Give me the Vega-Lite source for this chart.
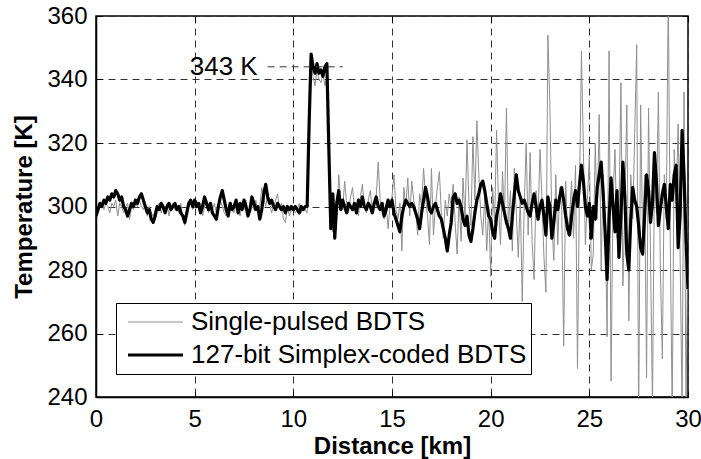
{
  "$schema": "https://vega.github.io/schema/vega-lite/v6.json",
  "width": 592,
  "height": 381,
  "autosize": {"type": "none"},
  "padding": {"left": 96, "top": 16, "right": 13, "bottom": 62},
  "background": "white",
  "config": {
    "font": "Liberation Sans",
    "view": {"stroke": "black", "strokeWidth": 1.5},
    "axis": {
      "domainColor": "black", "domainWidth": 1.5, "tickColor": "black", "labelColor": "black", "titleColor": "black",
      "labelFont": "Liberation Sans", "titleFont": "Liberation Sans", "labelFontSize": 24, "titleFontSize": 24,
      "titleFontWeight": "bold", "gridColor": "#333", "gridDash": [7, 5], "gridOpacity": 1, "gridWidth": 1,
      "tickSize": -6, "tickWidth": 1, "labelFlush": false, "labelOverlap": false
    }
  },
  "resolve": {"axis": {"x": "independent", "y": "independent"}},
  "datasets": {
    "profiles": [
{"s":"C","d":0,"t":297},{"s":"C","d":0.1,"t":299},{"s":"C","d":0.2,"t":301},{"s":"C","d":0.3,"t":300},{"s":"C","d":0.4,"t":302},{"s":"C","d":0.5,"t":301},{"s":"C","d":0.6,"t":303},{"s":"C","d":0.7,"t":302},{"s":"C","d":0.8,"t":304},{"s":"C","d":0.9,"t":303},
{"s":"C","d":1,"t":305},{"s":"C","d":1.1,"t":304},{"s":"C","d":1.2,"t":302},{"s":"C","d":1.3,"t":303},{"s":"C","d":1.4,"t":300},{"s":"C","d":1.5,"t":299},{"s":"C","d":1.6,"t":297},{"s":"C","d":1.7,"t":299},{"s":"C","d":1.8,"t":301},{"s":"C","d":1.9,"t":300},
{"s":"C","d":2,"t":302},{"s":"C","d":2.1,"t":301},{"s":"C","d":2.2,"t":303},{"s":"C","d":2.3,"t":304},{"s":"C","d":2.4,"t":302},{"s":"C","d":2.5,"t":300},{"s":"C","d":2.6,"t":298},{"s":"C","d":2.7,"t":299},{"s":"C","d":2.8,"t":296},{"s":"C","d":2.9,"t":295},
{"s":"C","d":3,"t":297},{"s":"C","d":3.1,"t":300},{"s":"C","d":3.2,"t":299},{"s":"C","d":3.3,"t":301},{"s":"C","d":3.4,"t":300},{"s":"C","d":3.5,"t":298},{"s":"C","d":3.6,"t":300},{"s":"C","d":3.7,"t":301},{"s":"C","d":3.8,"t":299},{"s":"C","d":3.9,"t":300},
{"s":"C","d":4,"t":301},{"s":"C","d":4.1,"t":299},{"s":"C","d":4.2,"t":300},{"s":"C","d":4.3,"t":298},{"s":"C","d":4.4,"t":297},{"s":"C","d":4.5,"t":295},{"s":"C","d":4.6,"t":298},{"s":"C","d":4.7,"t":301},{"s":"C","d":4.8,"t":302},{"s":"C","d":4.9,"t":300},
{"s":"C","d":5,"t":302},{"s":"C","d":5.1,"t":300},{"s":"C","d":5.2,"t":301},{"s":"C","d":5.3,"t":298},{"s":"C","d":5.4,"t":300},{"s":"C","d":5.5,"t":303},{"s":"C","d":5.6,"t":301},{"s":"C","d":5.7,"t":299},{"s":"C","d":5.8,"t":301},{"s":"C","d":5.9,"t":298},
{"s":"C","d":6,"t":297},{"s":"C","d":6.1,"t":296},{"s":"C","d":6.2,"t":300},{"s":"C","d":6.3,"t":303},{"s":"C","d":6.4,"t":305},{"s":"C","d":6.5,"t":302},{"s":"C","d":6.6,"t":299},{"s":"C","d":6.7,"t":297},{"s":"C","d":6.8,"t":301},{"s":"C","d":6.9,"t":299},
{"s":"C","d":7,"t":300},{"s":"C","d":7.1,"t":302},{"s":"C","d":7.2,"t":298},{"s":"C","d":7.3,"t":301},{"s":"C","d":7.4,"t":299},{"s":"C","d":7.5,"t":302},{"s":"C","d":7.6,"t":300},{"s":"C","d":7.7,"t":297},{"s":"C","d":7.8,"t":299},{"s":"C","d":7.9,"t":303},
{"s":"C","d":8,"t":301},{"s":"C","d":8.1,"t":299},{"s":"C","d":8.2,"t":300},{"s":"C","d":8.3,"t":296},{"s":"C","d":8.4,"t":299},{"s":"C","d":8.5,"t":304},{"s":"C","d":8.6,"t":307},{"s":"C","d":8.7,"t":303},{"s":"C","d":8.8,"t":301},{"s":"C","d":8.9,"t":302},
{"s":"C","d":9,"t":300},{"s":"C","d":9.1,"t":299},{"s":"C","d":9.2,"t":301},{"s":"C","d":9.3,"t":300},{"s":"C","d":9.4,"t":299},{"s":"C","d":9.5,"t":300},{"s":"C","d":9.6,"t":298},{"s":"C","d":9.7,"t":300},{"s":"C","d":9.8,"t":299},{"s":"C","d":9.9,"t":300},
{"s":"C","d":10,"t":299},{"s":"C","d":10.1,"t":300},{"s":"C","d":10.2,"t":299},{"s":"C","d":10.3,"t":298},{"s":"C","d":10.4,"t":300},{"s":"C","d":10.5,"t":299},{"s":"C","d":10.6,"t":300},{"s":"C","d":10.7,"t":300},{"s":"C","d":10.8,"t":326},{"s":"C","d":10.9,"t":348},
{"s":"C","d":11,"t":344},{"s":"C","d":11.1,"t":342},{"s":"C","d":11.2,"t":345},{"s":"C","d":11.3,"t":342},{"s":"C","d":11.4,"t":343},{"s":"C","d":11.5,"t":341},{"s":"C","d":11.6,"t":344},{"s":"C","d":11.7,"t":345},{"s":"C","d":11.8,"t":318},{"s":"C","d":11.9,"t":293},
{"s":"C","d":12,"t":304},{"s":"C","d":12.1,"t":290},{"s":"C","d":12.2,"t":301},{"s":"C","d":12.3,"t":305},{"s":"C","d":12.4,"t":299},{"s":"C","d":12.5,"t":302},{"s":"C","d":12.6,"t":300},{"s":"C","d":12.7,"t":298},{"s":"C","d":12.8,"t":301},{"s":"C","d":12.9,"t":300},
{"s":"C","d":13,"t":299},{"s":"C","d":13.1,"t":301},{"s":"C","d":13.2,"t":298},{"s":"C","d":13.3,"t":302},{"s":"C","d":13.4,"t":300},{"s":"C","d":13.5,"t":303},{"s":"C","d":13.6,"t":300},{"s":"C","d":13.7,"t":299},{"s":"C","d":13.8,"t":301},{"s":"C","d":13.9,"t":300},
{"s":"C","d":14,"t":298},{"s":"C","d":14.1,"t":301},{"s":"C","d":14.2,"t":303},{"s":"C","d":14.3,"t":300},{"s":"C","d":14.4,"t":299},{"s":"C","d":14.5,"t":301},{"s":"C","d":14.6,"t":297},{"s":"C","d":14.7,"t":299},{"s":"C","d":14.8,"t":302},{"s":"C","d":14.9,"t":300},
{"s":"C","d":15,"t":302},{"s":"C","d":15.1,"t":298},{"s":"C","d":15.2,"t":296},{"s":"C","d":15.3,"t":294},{"s":"C","d":15.4,"t":292},{"s":"C","d":15.5,"t":297},{"s":"C","d":15.6,"t":300},{"s":"C","d":15.7,"t":302},{"s":"C","d":15.8,"t":301},{"s":"C","d":15.9,"t":300},
{"s":"C","d":16,"t":301},{"s":"C","d":16.1,"t":300},{"s":"C","d":16.2,"t":298},{"s":"C","d":16.3,"t":296},{"s":"C","d":16.4,"t":293},{"s":"C","d":16.5,"t":298},{"s":"C","d":16.6,"t":302},{"s":"C","d":16.7,"t":306},{"s":"C","d":16.8,"t":303},{"s":"C","d":16.9,"t":299},
{"s":"C","d":17,"t":298},{"s":"C","d":17.1,"t":300},{"s":"C","d":17.2,"t":301},{"s":"C","d":17.3,"t":299},{"s":"C","d":17.4,"t":297},{"s":"C","d":17.5,"t":296},{"s":"C","d":17.6,"t":293},{"s":"C","d":17.7,"t":290},{"s":"C","d":17.8,"t":286},{"s":"C","d":17.9,"t":291},
{"s":"C","d":18,"t":295},{"s":"C","d":18.1,"t":303},{"s":"C","d":18.2,"t":304},{"s":"C","d":18.3,"t":301},{"s":"C","d":18.4,"t":302},{"s":"C","d":18.5,"t":300},{"s":"C","d":18.6,"t":296},{"s":"C","d":18.7,"t":294},{"s":"C","d":18.8,"t":297},{"s":"C","d":18.9,"t":291},
{"s":"C","d":19,"t":289},{"s":"C","d":19.1,"t":293},{"s":"C","d":19.2,"t":298},{"s":"C","d":19.3,"t":302},{"s":"C","d":19.4,"t":304},{"s":"C","d":19.5,"t":307},{"s":"C","d":19.6,"t":308},{"s":"C","d":19.7,"t":305},{"s":"C","d":19.8,"t":301},{"s":"C","d":19.9,"t":297},
{"s":"C","d":20,"t":296},{"s":"C","d":20.1,"t":292},{"s":"C","d":20.2,"t":290},{"s":"C","d":20.3,"t":297},{"s":"C","d":20.4,"t":300},{"s":"C","d":20.5,"t":304},{"s":"C","d":20.6,"t":301},{"s":"C","d":20.7,"t":298},{"s":"C","d":20.8,"t":295},{"s":"C","d":20.9,"t":293},
{"s":"C","d":21,"t":290},{"s":"C","d":21.1,"t":297},{"s":"C","d":21.2,"t":304},{"s":"C","d":21.3,"t":310},{"s":"C","d":21.4,"t":305},{"s":"C","d":21.5,"t":303},{"s":"C","d":21.6,"t":301},{"s":"C","d":21.7,"t":302},{"s":"C","d":21.8,"t":300},{"s":"C","d":21.9,"t":298},
{"s":"C","d":22,"t":297},{"s":"C","d":22.1,"t":301},{"s":"C","d":22.2,"t":304},{"s":"C","d":22.3,"t":300},{"s":"C","d":22.4,"t":296},{"s":"C","d":22.5,"t":300},{"s":"C","d":22.6,"t":302},{"s":"C","d":22.7,"t":297},{"s":"C","d":22.8,"t":291},{"s":"C","d":22.9,"t":303},
{"s":"C","d":23,"t":300},{"s":"C","d":23.1,"t":290},{"s":"C","d":23.2,"t":295},{"s":"C","d":23.3,"t":302},{"s":"C","d":23.4,"t":299},{"s":"C","d":23.5,"t":303},{"s":"C","d":23.6,"t":306},{"s":"C","d":23.7,"t":302},{"s":"C","d":23.8,"t":297},{"s":"C","d":23.9,"t":293},
{"s":"C","d":24,"t":291},{"s":"C","d":24.1,"t":297},{"s":"C","d":24.2,"t":302},{"s":"C","d":24.3,"t":305},{"s":"C","d":24.4,"t":300},{"s":"C","d":24.5,"t":307},{"s":"C","d":24.6,"t":313},{"s":"C","d":24.7,"t":308},{"s":"C","d":24.8,"t":300},{"s":"C","d":24.9,"t":297},
{"s":"C","d":25,"t":301},{"s":"C","d":25.1,"t":290},{"s":"C","d":25.2,"t":300},{"s":"C","d":25.3,"t":296},{"s":"C","d":25.4,"t":306},{"s":"C","d":25.5,"t":310},{"s":"C","d":25.6,"t":314},{"s":"C","d":25.7,"t":304},{"s":"C","d":25.8,"t":292},{"s":"C","d":25.9,"t":277},
{"s":"C","d":26,"t":296},{"s":"C","d":26.1,"t":309},{"s":"C","d":26.2,"t":300},{"s":"C","d":26.3,"t":292},{"s":"C","d":26.4,"t":305},{"s":"C","d":26.5,"t":284},{"s":"C","d":26.6,"t":297},{"s":"C","d":26.7,"t":314},{"s":"C","d":26.8,"t":303},{"s":"C","d":26.9,"t":285},
{"s":"C","d":27,"t":280},{"s":"C","d":27.1,"t":296},{"s":"C","d":27.2,"t":306},{"s":"C","d":27.3,"t":302},{"s":"C","d":27.4,"t":300},{"s":"C","d":27.5,"t":294},{"s":"C","d":27.6,"t":287},{"s":"C","d":27.7,"t":285},{"s":"C","d":27.8,"t":297},{"s":"C","d":27.9,"t":310},
{"s":"C","d":28,"t":305},{"s":"C","d":28.1,"t":295},{"s":"C","d":28.2,"t":301},{"s":"C","d":28.3,"t":317},{"s":"C","d":28.4,"t":308},{"s":"C","d":28.5,"t":294},{"s":"C","d":28.6,"t":299},{"s":"C","d":28.7,"t":304},{"s":"C","d":28.8,"t":307},{"s":"C","d":28.9,"t":300},
{"s":"C","d":29,"t":293},{"s":"C","d":29.1,"t":307},{"s":"C","d":29.2,"t":302},{"s":"C","d":29.3,"t":310},{"s":"C","d":29.4,"t":313},{"s":"C","d":29.5,"t":287},{"s":"C","d":29.6,"t":297},{"s":"C","d":29.7,"t":324},{"s":"C","d":29.8,"t":310},{"s":"C","d":29.9,"t":290},
{"s":"C","d":30,"t":274},
{"s":"S","d":0,"t":299},{"s":"S","d":0.1,"t":298},{"s":"S","d":0.2,"t":301},{"s":"S","d":0.3,"t":300},{"s":"S","d":0.4,"t":299},{"s":"S","d":0.5,"t":301},{"s":"S","d":0.6,"t":300},{"s":"S","d":0.7,"t":298},{"s":"S","d":0.8,"t":301},{"s":"S","d":0.9,"t":300},
{"s":"S","d":1,"t":302},{"s":"S","d":1.1,"t":297},{"s":"S","d":1.2,"t":301},{"s":"S","d":1.3,"t":300},{"s":"S","d":1.4,"t":298},{"s":"S","d":1.5,"t":300},{"s":"S","d":1.6,"t":301},{"s":"S","d":1.7,"t":296},{"s":"S","d":1.8,"t":300},{"s":"S","d":1.9,"t":299},
{"s":"S","d":2,"t":301},{"s":"S","d":2.1,"t":300},{"s":"S","d":2.2,"t":302},{"s":"S","d":2.3,"t":300},{"s":"S","d":2.4,"t":299},{"s":"S","d":2.5,"t":301},{"s":"S","d":2.6,"t":297},{"s":"S","d":2.7,"t":300},{"s":"S","d":2.8,"t":298},{"s":"S","d":2.9,"t":297},
{"s":"S","d":3,"t":299},{"s":"S","d":3.1,"t":300},{"s":"S","d":3.2,"t":301},{"s":"S","d":3.3,"t":298},{"s":"S","d":3.4,"t":300},{"s":"S","d":3.5,"t":299},{"s":"S","d":3.6,"t":301},{"s":"S","d":3.7,"t":297},{"s":"S","d":3.8,"t":300},{"s":"S","d":3.9,"t":301},
{"s":"S","d":4,"t":299},{"s":"S","d":4.1,"t":300},{"s":"S","d":4.2,"t":298},{"s":"S","d":4.3,"t":301},{"s":"S","d":4.4,"t":296},{"s":"S","d":4.5,"t":294},{"s":"S","d":4.6,"t":299},{"s":"S","d":4.7,"t":300},{"s":"S","d":4.8,"t":301},{"s":"S","d":4.9,"t":299},
{"s":"S","d":5,"t":300},{"s":"S","d":5.1,"t":302},{"s":"S","d":5.2,"t":299},{"s":"S","d":5.3,"t":301},{"s":"S","d":5.4,"t":297},{"s":"S","d":5.5,"t":300},{"s":"S","d":5.6,"t":302},{"s":"S","d":5.7,"t":298},{"s":"S","d":5.8,"t":300},{"s":"S","d":5.9,"t":299},
{"s":"S","d":6,"t":301},{"s":"S","d":6.1,"t":298},{"s":"S","d":6.2,"t":299},{"s":"S","d":6.3,"t":302},{"s":"S","d":6.4,"t":300},{"s":"S","d":6.5,"t":298},{"s":"S","d":6.6,"t":297},{"s":"S","d":6.7,"t":300},{"s":"S","d":6.8,"t":301},{"s":"S","d":6.9,"t":299},
{"s":"S","d":7,"t":298},{"s":"S","d":7.1,"t":301},{"s":"S","d":7.2,"t":300},{"s":"S","d":7.3,"t":297},{"s":"S","d":7.4,"t":301},{"s":"S","d":7.5,"t":299},{"s":"S","d":7.6,"t":302},{"s":"S","d":7.7,"t":298},{"s":"S","d":7.8,"t":300},{"s":"S","d":7.9,"t":301},
{"s":"S","d":8,"t":299},{"s":"S","d":8.1,"t":302},{"s":"S","d":8.2,"t":298},{"s":"S","d":8.3,"t":300},{"s":"S","d":8.4,"t":306},{"s":"S","d":8.5,"t":303},{"s":"S","d":8.6,"t":300},{"s":"S","d":8.7,"t":304},{"s":"S","d":8.8,"t":301},{"s":"S","d":8.9,"t":298},
{"s":"S","d":9,"t":300},{"s":"S","d":9.1,"t":302},{"s":"S","d":9.2,"t":304},{"s":"S","d":9.3,"t":299},{"s":"S","d":9.4,"t":301},{"s":"S","d":9.5,"t":296},{"s":"S","d":9.6,"t":295},{"s":"S","d":9.7,"t":300},{"s":"S","d":9.8,"t":297},{"s":"S","d":9.9,"t":299},
{"s":"S","d":10,"t":300},{"s":"S","d":10.1,"t":298},{"s":"S","d":10.2,"t":299},{"s":"S","d":10.3,"t":301},{"s":"S","d":10.4,"t":298},{"s":"S","d":10.5,"t":300},{"s":"S","d":10.6,"t":299},{"s":"S","d":10.7,"t":298},{"s":"S","d":10.8,"t":322},{"s":"S","d":10.9,"t":345},
{"s":"S","d":11,"t":341},{"s":"S","d":11.1,"t":338},{"s":"S","d":11.2,"t":343},{"s":"S","d":11.3,"t":340},{"s":"S","d":11.4,"t":339},{"s":"S","d":11.5,"t":342},{"s":"S","d":11.6,"t":338},{"s":"S","d":11.7,"t":341},{"s":"S","d":11.8,"t":315},{"s":"S","d":11.9,"t":298},
{"s":"S","d":12,"t":292},{"s":"S","d":12.1,"t":301},{"s":"S","d":12.2,"t":297},{"s":"S","d":12.3,"t":310},{"s":"S","d":12.4,"t":302},{"s":"S","d":12.5,"t":299},{"s":"S","d":12.6,"t":308},{"s":"S","d":12.7,"t":301},{"s":"S","d":12.8,"t":298},{"s":"S","d":12.9,"t":303},
{"s":"S","d":13,"t":306},{"s":"S","d":13.1,"t":299},{"s":"S","d":13.2,"t":301},{"s":"S","d":13.3,"t":297},{"s":"S","d":13.4,"t":303},{"s":"S","d":13.5,"t":307},{"s":"S","d":13.6,"t":300},{"s":"S","d":13.7,"t":298},{"s":"S","d":13.8,"t":302},{"s":"S","d":13.9,"t":305},
{"s":"S","d":14,"t":299},{"s":"S","d":14.1,"t":301},{"s":"S","d":14.2,"t":303},{"s":"S","d":14.3,"t":314},{"s":"S","d":14.4,"t":302},{"s":"S","d":14.5,"t":298},{"s":"S","d":14.6,"t":296},{"s":"S","d":14.7,"t":301},{"s":"S","d":14.8,"t":293},{"s":"S","d":14.9,"t":300},
{"s":"S","d":15,"t":303},{"s":"S","d":15.1,"t":310},{"s":"S","d":15.2,"t":299},{"s":"S","d":15.3,"t":296},{"s":"S","d":15.4,"t":301},{"s":"S","d":15.5,"t":286},{"s":"S","d":15.6,"t":306},{"s":"S","d":15.7,"t":300},{"s":"S","d":15.8,"t":309},{"s":"S","d":15.9,"t":297},
{"s":"S","d":16,"t":308},{"s":"S","d":16.1,"t":302},{"s":"S","d":16.2,"t":299},{"s":"S","d":16.3,"t":291},{"s":"S","d":16.4,"t":304},{"s":"S","d":16.5,"t":300},{"s":"S","d":16.6,"t":312},{"s":"S","d":16.7,"t":303},{"s":"S","d":16.8,"t":297},{"s":"S","d":16.9,"t":288},
{"s":"S","d":17,"t":312},{"s":"S","d":17.1,"t":291},{"s":"S","d":17.2,"t":300},{"s":"S","d":17.3,"t":306},{"s":"S","d":17.4,"t":311},{"s":"S","d":17.5,"t":298},{"s":"S","d":17.6,"t":290},{"s":"S","d":17.7,"t":302},{"s":"S","d":17.8,"t":297},{"s":"S","d":17.9,"t":304},
{"s":"S","d":18,"t":300},{"s":"S","d":18.1,"t":307},{"s":"S","d":18.2,"t":295},{"s":"S","d":18.3,"t":285},{"s":"S","d":18.4,"t":303},{"s":"S","d":18.5,"t":289},{"s":"S","d":18.6,"t":309},{"s":"S","d":18.7,"t":296},{"s":"S","d":18.8,"t":321},{"s":"S","d":18.9,"t":301},
{"s":"S","d":19,"t":294},{"s":"S","d":19.1,"t":322},{"s":"S","d":19.2,"t":302},{"s":"S","d":19.3,"t":327},{"s":"S","d":19.4,"t":310},{"s":"S","d":19.5,"t":297},{"s":"S","d":19.6,"t":291},{"s":"S","d":19.7,"t":303},{"s":"S","d":19.8,"t":286},{"s":"S","d":19.9,"t":300},
{"s":"S","d":20,"t":278},{"s":"S","d":20.1,"t":306},{"s":"S","d":20.2,"t":295},{"s":"S","d":20.3,"t":324},{"s":"S","d":20.4,"t":300},{"s":"S","d":20.5,"t":288},{"s":"S","d":20.6,"t":311},{"s":"S","d":20.7,"t":296},{"s":"S","d":20.8,"t":331},{"s":"S","d":20.9,"t":292},
{"s":"S","d":21,"t":305},{"s":"S","d":21.1,"t":286},{"s":"S","d":21.2,"t":312},{"s":"S","d":21.3,"t":298},{"s":"S","d":21.4,"t":284},{"s":"S","d":21.5,"t":303},{"s":"S","d":21.6,"t":270},{"s":"S","d":21.7,"t":300},{"s":"S","d":21.8,"t":320},{"s":"S","d":21.9,"t":291},
{"s":"S","d":22,"t":317},{"s":"S","d":22.1,"t":289},{"s":"S","d":22.2,"t":277},{"s":"S","d":22.3,"t":305},{"s":"S","d":22.4,"t":296},{"s":"S","d":22.5,"t":318},{"s":"S","d":22.6,"t":302},{"s":"S","d":22.7,"t":284},{"s":"S","d":22.8,"t":273},{"s":"S","d":22.9,"t":354},
{"s":"S","d":23,"t":332},{"s":"S","d":23.1,"t":295},{"s":"S","d":23.2,"t":283},{"s":"S","d":23.3,"t":310},{"s":"S","d":23.4,"t":288},{"s":"S","d":23.5,"t":306},{"s":"S","d":23.6,"t":299},{"s":"S","d":23.7,"t":256},{"s":"S","d":23.8,"t":308},{"s":"S","d":23.9,"t":291},
{"s":"S","d":24,"t":297},{"s":"S","d":24.1,"t":308},{"s":"S","d":24.2,"t":290},{"s":"S","d":24.3,"t":313},{"s":"S","d":24.4,"t":249},{"s":"S","d":24.5,"t":305},{"s":"S","d":24.6,"t":349},{"s":"S","d":24.7,"t":317},{"s":"S","d":24.8,"t":288},{"s":"S","d":24.9,"t":302},
{"s":"S","d":25,"t":316},{"s":"S","d":25.1,"t":280},{"s":"S","d":25.2,"t":285},{"s":"S","d":25.3,"t":320},{"s":"S","d":25.4,"t":296},{"s":"S","d":25.5,"t":329},{"s":"S","d":25.6,"t":280},{"s":"S","d":25.7,"t":310},{"s":"S","d":25.8,"t":298},{"s":"S","d":25.9,"t":259},
{"s":"S","d":26,"t":349},{"s":"S","d":26.1,"t":245},{"s":"S","d":26.2,"t":302},{"s":"S","d":26.3,"t":318},{"s":"S","d":26.4,"t":290},{"s":"S","d":26.5,"t":296},{"s":"S","d":26.6,"t":339},{"s":"S","d":26.7,"t":275},{"s":"S","d":26.8,"t":300},{"s":"S","d":26.9,"t":332},
{"s":"S","d":27,"t":264},{"s":"S","d":27.1,"t":310},{"s":"S","d":27.2,"t":296},{"s":"S","d":27.3,"t":323},{"s":"S","d":27.4,"t":351},{"s":"S","d":27.5,"t":232},{"s":"S","d":27.6,"t":332},{"s":"S","d":27.7,"t":290},{"s":"S","d":27.8,"t":310},{"s":"S","d":27.9,"t":246},
{"s":"S","d":28,"t":331},{"s":"S","d":28.1,"t":285},{"s":"S","d":28.2,"t":236},{"s":"S","d":28.3,"t":312},{"s":"S","d":28.4,"t":298},{"s":"S","d":28.5,"t":336},{"s":"S","d":28.6,"t":280},{"s":"S","d":28.7,"t":252},{"s":"S","d":28.8,"t":310},{"s":"S","d":28.9,"t":296},
{"s":"S","d":29,"t":368},{"s":"S","d":29.1,"t":290},{"s":"S","d":29.2,"t":234},{"s":"S","d":29.3,"t":318},{"s":"S","d":29.4,"t":301},{"s":"S","d":29.5,"t":326},{"s":"S","d":29.6,"t":285},{"s":"S","d":29.7,"t":236},{"s":"S","d":29.8,"t":336},{"s":"S","d":29.9,"t":236},
{"s":"S","d":30,"t":300}
    ],
    "note": [{"d": 8.7, "d2": 12.5, "t": 344, "label": "343 K"}]
  },
  "layer": [
    {
      "data": {"name": "profiles"},
      "transform": [{"filter": "datum.s === 'S'"}],
      "mark": {"type": "line", "clip": true, "strokeJoin": "miter"},
      "encoding": {
        "x": {"field": "d", "type": "quantitative", "scale": {"domain": [0, 30], "nice": false},
              "axis": {"title": "Distance [km]", "values": [0, 5, 10, 15, 20, 25, 30], "grid": true, "labelPadding": 16, "titlePadding": 3}},
        "y": {"field": "t", "type": "quantitative", "scale": {"domain": [240, 360], "nice": false, "zero": false},
              "axis": {"title": "Temperature [K]", "values": [240, 260, 280, 300, 320, 340, 360], "grid": true, "labelPadding": 15, "titlePadding": 10}},
        "color": {"field": "s", "type": "nominal", "scale": {"domain": ["S", "C"], "range": ["#8f8f8f", "#000000"]},
                  "legend": {"orient": "none", "legendX": 20, "legendY": 287, "title": null, "strokeColor": "black", "fillColor": "white",
                             "padding": 4, "symbolOffset": 6, "clipHeight": 30, "labelFontSize": 26, "labelFont": "Liberation Sans", "labelColor": "black", "labelLimit": 600, "symbolType": "stroke", "symbolSize": 3025, "labelOffset": 6, "rowPadding": 3,
                             "labelExpr": "datum.value === 'S' ? 'Single-pulsed BDTS' : '127-bit Simplex-coded BDTS'"}},
        "strokeWidth": {"field": "s", "type": "nominal", "scale": {"domain": ["S", "C"], "range": [1, 3.2]},
                  "legend": {"orient": "none", "legendX": 20, "legendY": 287, "title": null, "strokeColor": "black", "fillColor": "white",
                             "padding": 4, "symbolOffset": 6, "clipHeight": 30, "labelFontSize": 26, "labelFont": "Liberation Sans", "labelColor": "black", "labelLimit": 600, "symbolType": "stroke", "symbolSize": 3025, "labelOffset": 6, "rowPadding": 3,
                             "labelExpr": "datum.value === 'S' ? 'Single-pulsed BDTS' : '127-bit Simplex-coded BDTS'"}}
      }
    },
    {
      "data": {"name": "profiles"},
      "transform": [{"filter": "datum.s === 'C'"}],
      "mark": {"type": "line", "clip": true, "strokeJoin": "round"},
      "encoding": {
        "x": {"field": "d", "type": "quantitative", "axis": null},
        "y": {"field": "t", "type": "quantitative", "axis": null},
        "color": {"field": "s", "type": "nominal"},
        "strokeWidth": {"field": "s", "type": "nominal"}
      }
    },
    {
      "data": {"name": "note"},
      "mark": {"type": "rule", "strokeDash": [7, 5], "color": "#333", "strokeWidth": 1},
      "encoding": {
        "x": {"field": "d", "type": "quantitative", "axis": {"orient": "top", "labels": false, "title": null, "grid": false, "domain": false, "values": [0, 5, 10, 15, 20, 25, 30]}},
        "x2": {"field": "d2"},
        "y": {"field": "t", "type": "quantitative", "axis": {"orient": "right", "labels": false, "title": null, "grid": false, "domain": false, "values": [240, 260, 280, 300, 320, 340, 360]}}
      }
    },
    {
      "data": {"name": "note"},
      "mark": {"type": "text", "align": "right", "baseline": "middle", "fontSize": 26, "font": "Liberation Sans", "color": "black", "dx": -10},
      "encoding": {
        "x": {"field": "d", "type": "quantitative", "axis": null},
        "y": {"field": "t", "type": "quantitative", "axis": null},
        "text": {"field": "label"}
      }
    }
  ]
}
